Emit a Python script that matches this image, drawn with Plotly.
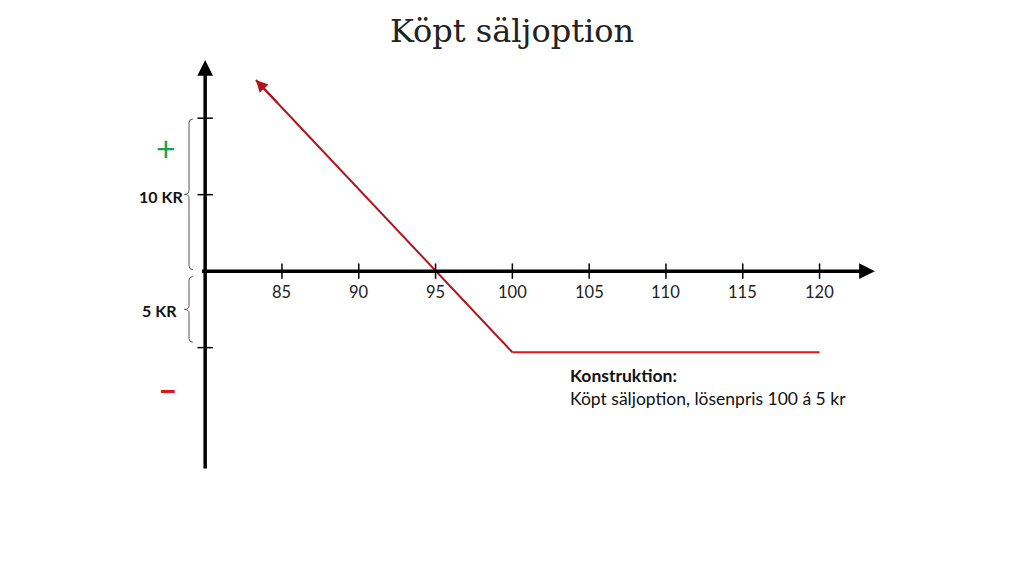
"""Payoff chart for a bought put option (Köpt säljoption)."""

import plotly.graph_objects as go

# Payoff line: diagonal leg then flat leg
payoff_x = [83.3, 100, 120]
payoff_y = [12.5, -5.3, -5.3]

# Axis ticks and labels
x_ticks = [85, 90, 95, 100, 105, 110, 115, 120]
x_tick_labels = ["85", "90", "95", "100", "105", "110", "115", "120"]
y_ticks = [10, 5, -5]

# Axis extents (where the drawn axis arrows start/end)
x_axis_span = [79.7, 123.6]
y_axis_span = [-13.0, 13.8]

TEXT_FONT = "Lato, 'Open Sans', sans-serif"


def brace_path(x, y_top, y_bottom, depth=0.25, tip=0.3):
    """SVG path for a left curly brace between y_top and y_bottom at x."""
    mid = (y_top + y_bottom) / 2
    xi = x - depth
    xt = xi - tip
    c = 0.25
    return (
        f"M {x},{y_top} Q {xi},{y_top} {xi},{y_top - c} "
        f"L {xi},{mid + c} Q {xi},{mid} {xt},{mid} "
        f"Q {xi},{mid} {xi},{mid - c} "
        f"L {xi},{y_bottom + c} Q {xi},{y_bottom} {x},{y_bottom}"
    )


fig = go.Figure()

# Diagonal leg (darker red) and flat leg (brighter red)
fig.add_trace(go.Scatter(
    x=payoff_x[:2], y=payoff_y[:2], mode="lines",
    line=dict(color="#B3141B", width=2), hoverinfo="skip",
))
fig.add_trace(go.Scatter(
    x=payoff_x[1:], y=payoff_y[1:], mode="lines",
    line=dict(color="#E0161B", width=2), hoverinfo="skip",
))

# Tick marks on the axes
fig.add_trace(go.Scatter(
    x=x_ticks, y=[0] * len(x_ticks), mode="markers",
    marker=dict(symbol="line-ns", size=11, line=dict(color="black", width=1.5)),
    hoverinfo="skip",
))
fig.add_trace(go.Scatter(
    x=[80] * len(y_ticks), y=y_ticks, mode="markers",
    marker=dict(symbol="line-ew", size=11, line=dict(color="black", width=1.5)),
    hoverinfo="skip",
))

# Axis arrows
fig.add_annotation(
    x=x_axis_span[1], y=0, ax=x_axis_span[0], ay=0,
    xref="x", yref="y", axref="x", ayref="y", text="",
    showarrow=True, arrowhead=2, arrowsize=0.9, arrowwidth=3.5, arrowcolor="black",
)
fig.add_annotation(
    x=80, y=y_axis_span[1], ax=80, ay=y_axis_span[0],
    xref="x", yref="y", axref="x", ayref="y", text="",
    showarrow=True, arrowhead=2, arrowsize=0.9, arrowwidth=3.5, arrowcolor="black",
)

# Arrowhead at the open end of the payoff line
fig.add_annotation(
    x=payoff_x[0], y=payoff_y[0], ax=payoff_x[0] + 1.5,
    ay=payoff_y[0] + 1.5 * (payoff_y[1] - payoff_y[0]) / (payoff_x[1] - payoff_x[0]),
    xref="x", yref="y", axref="x", ayref="y", text="",
    showarrow=True, arrowhead=2, arrowsize=1.2, arrowwidth=2, arrowcolor="#B3141B",
)

# x tick labels
for xv, lab in zip(x_ticks, x_tick_labels):
    fig.add_annotation(
        x=xv, y=0, text=lab, showarrow=False, yshift=-21,
        font=dict(family=TEXT_FONT, size=16.5, color="#222"),
    )

# Braces marking 10 kr and 5 kr
fig.add_shape(type="path", path=brace_path(79.2, y_ticks[0] - 0.05, 0.1),
              line=dict(color="#555", width=1))
fig.add_shape(type="path", path=brace_path(79.2, -0.35, y_ticks[2] + 0.35),
              line=dict(color="#555", width=1))

fig.add_annotation(x=78.7, y=4.85, text="<b>10 KR</b>", showarrow=False,
                   xanchor="right", font=dict(family=TEXT_FONT, size=16, color="#111"))
fig.add_annotation(x=78.3, y=-2.55, text="<b>5 KR</b>", showarrow=False,
                   xanchor="right", font=dict(family=TEXT_FONT, size=16, color="#111"))

# Plus / minus signs
fig.add_annotation(x=77.45, y=8.1, text="+", showarrow=False,
                   font=dict(family=TEXT_FONT, size=34, color="#1BA14B"))
fig.add_annotation(x=77.55, y=-7.65, text="<b>\u2013</b>", showarrow=False,
                   font=dict(family=TEXT_FONT, size=34, color="#E0161B"))

# Construction note
fig.add_annotation(
    x=103.65, y=-6.0, xanchor="left", yanchor="top", align="left",
    text="<b>Konstruktion:</b><br>Köpt säljoption, lösenpris 100 á 5 kr",
    showarrow=False, font=dict(family=TEXT_FONT, size=17.5, color="#111"),
)

fig.update_layout(
    title=dict(
        text="Köpt säljoption", x=504 / 1024, xref="container", xanchor="center",
        y=1 - 23 / 562, yref="container", yanchor="middle",
        font=dict(family="'DejaVu Serif', serif", size=32, color="#222"),
    ),
    width=1024, height=562, autosize=False,
    margin=dict(l=105, r=151, t=49, b=100),
    showlegend=False,
    plot_bgcolor="white", paper_bgcolor="white",
    xaxis=dict(range=[74, 124], visible=False, fixedrange=True),
    yaxis=dict(range=[-13, 14], visible=False, fixedrange=True),
)

fig.write_html("out.html")
